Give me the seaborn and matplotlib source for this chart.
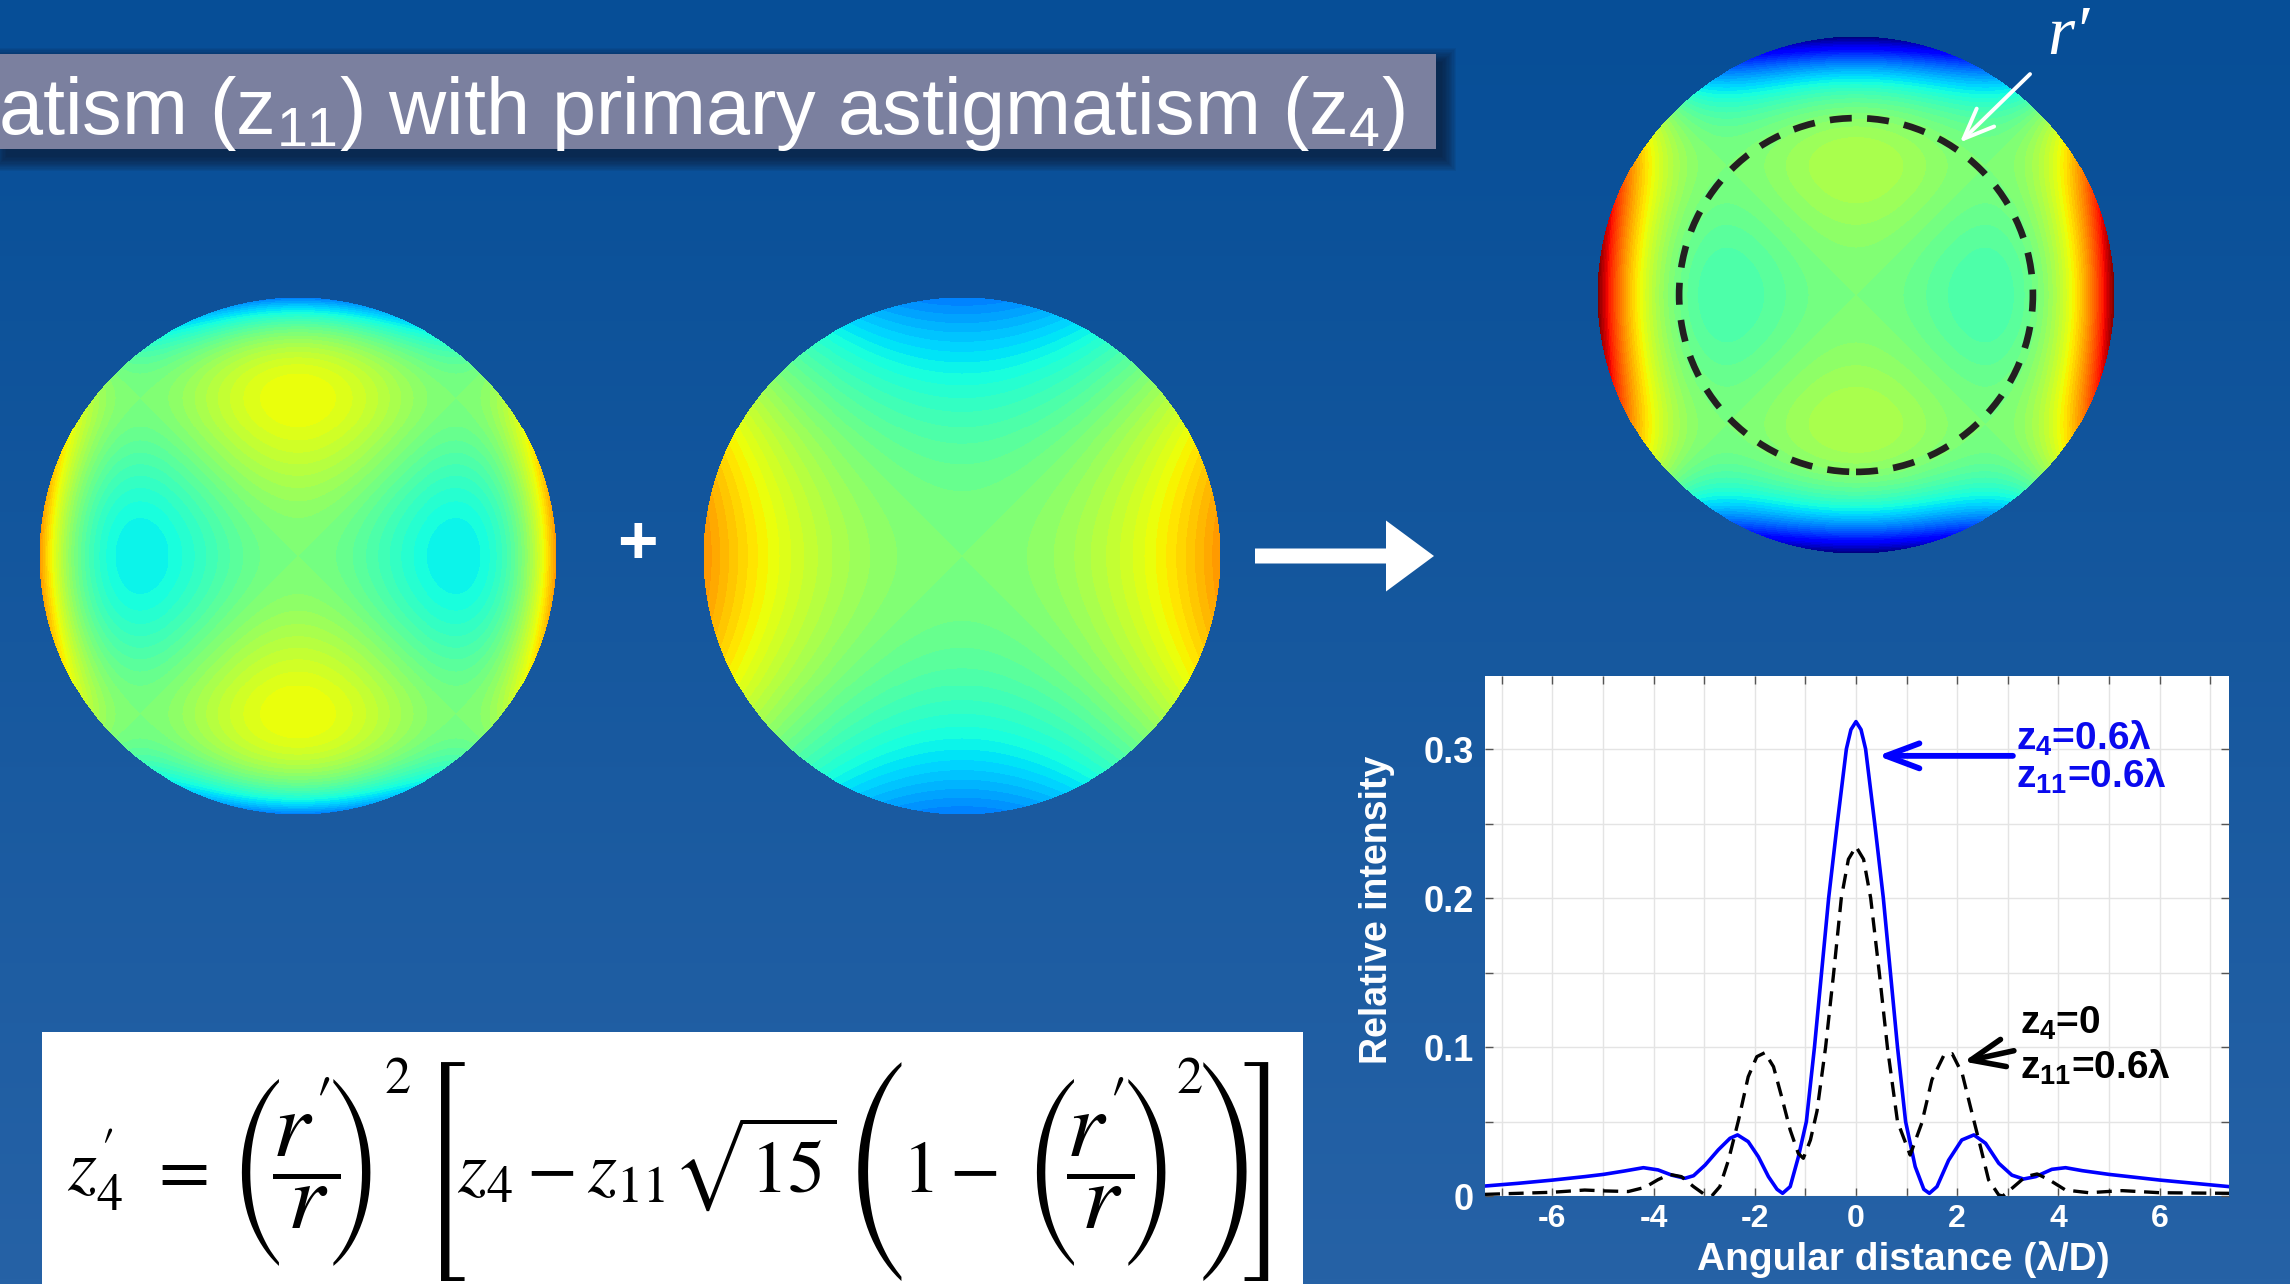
import numpy as np
import matplotlib
matplotlib.use("Agg")
import matplotlib.pyplot as plt
import seaborn as sns
from matplotlib.patches import Rectangle, Circle, FancyArrow
from matplotlib.ticker import FixedLocator, MultipleLocator
from matplotlib import font_manager as fm
from matplotlib.textpath import TextPath
from matplotlib.font_manager import FontProperties

# ---------------- data ----------------
x_blue = [-7.33, -6.68, -5.99, -5.36, -4.99, -4.57, -4.20, -3.91, -3.64, -3.38, -3.21, -2.98,
          -2.72, -2.49, -2.34, -2.13, -1.93, -1.73, -1.56, -1.45, -1.30, -1.14, -0.98, -0.82,
          -0.68, -0.54, -0.37, -0.19, -0.10, 0.00, 0.10, 0.19, 0.37, 0.54, 0.68, 0.82, 0.98,
          1.17, 1.34, 1.45, 1.60, 1.83, 2.09, 2.33, 2.56, 2.82, 3.08, 3.31, 3.55, 3.87, 4.14,
          4.47, 5.00, 6.00, 7.37]
y_blue = [0.0067, 0.0085, 0.0107, 0.0130, 0.0145, 0.0168, 0.0190, 0.0175, 0.0140, 0.0119, 0.0136,
          0.0208, 0.0310, 0.0387, 0.0410, 0.0365, 0.0264, 0.0130, 0.0045, 0.0018, 0.0063, 0.0260,
          0.0500, 0.1000, 0.1500, 0.2000, 0.2500, 0.3000, 0.3130, 0.3184, 0.3130, 0.3000, 0.2500,
          0.2000, 0.1500, 0.1000, 0.0500, 0.0197, 0.0045, 0.0018, 0.0063, 0.0240, 0.0376, 0.0410,
          0.0354, 0.0220, 0.0140, 0.0114, 0.0130, 0.0179, 0.0190, 0.0170, 0.0145, 0.0107, 0.0063]

x_black = [-7.33, -6.00, -5.36, -4.96, -4.50, -4.17, -3.91, -3.68, -3.45, -3.21, -2.98, -2.85,
           -2.69, -2.52, -2.32, -2.13, -1.96, -1.80, -1.63, -1.47, -1.30, -1.14, -1.04, -0.90,
           -0.77, -0.60, -0.44, -0.29, -0.15, 0.00, 0.15, 0.29, 0.46, 0.62, 0.82, 1.07, 1.30,
           1.50, 1.73, 1.90, 2.10, 2.26, 2.46, 2.62, 2.82, 2.90, 3.08, 3.35, 3.58, 3.81, 4.14,
           4.60, 5.26, 6.00, 7.37]
y_black = [0.0011, 0.0025, 0.0040, 0.0034, 0.0030, 0.0058, 0.0110, 0.0145, 0.0130, 0.0063, 0.0007,
           0.0000, 0.0063, 0.0240, 0.0510, 0.0800, 0.0935, 0.0962, 0.0868, 0.0667, 0.0443, 0.0286,
           0.0253, 0.0376, 0.0570, 0.1000, 0.1500, 0.2000, 0.2260, 0.2345, 0.2260, 0.2000, 0.1500,
           0.1000, 0.0500, 0.0275, 0.0490, 0.0780, 0.0940, 0.0955, 0.0820, 0.0600, 0.0330, 0.0108,
           0.0007, 0.0000, 0.0051, 0.0130, 0.0148, 0.0110, 0.0040, 0.0022, 0.0036, 0.0022, 0.0018]

xtick_values = [-6, -4, -2, 0, 2, 4, 6]
xtick_labels = ["-6", "-4", "-2", "0", "2", "4", "6"]
ytick_values = [0, 0.1, 0.2, 0.3]
ytick_labels = ["0", "0.1", "0.2", "0.3"]
x_label = "Angular distance (λ/D)"
y_label = "Relative intensity"
label_blue = ["z$_\\mathbf{4}$=0.6λ", "z$_\\mathbf{11}$=0.6λ"]
label_black = ["z$_\\mathbf{4}$=0", "z$_\\mathbf{11}$=0.6λ"]
title_text = "atism (z$_{11}$) with primary astigmatism (z$_{4}$)"
# formula z4' = (r'/r)^2 [ z4 - z11 sqrt(15) (1 - (r'/r)^2) ], written piece by piece
formula_body = [r"$z_4'$", r"$=$", r"$z_4 - z_{11}\sqrt{15}$", r"$1 -$"]
formula_frac = r"$\dfrac{r'}{r}$"
formula_power = "$2$"
formula_delims = ["(", ")", "[", "(", "(", ")", ")", "]"]
rprime_text = "r′"

# wavefront map coefficients (relative to a shared colour range of +-1)
coef_secondary = 0.50   # secondary astigmatism map (left)
coef_primary = 0.50     # primary astigmatism map (middle)
rprime_ratio = 0.683    # dashed circle r'/r

# ---------------- figure ----------------
names = {f.name for f in fm.fontManager.ttflist}
SANS = "Liberation Sans" if "Liberation Sans" in names else "DejaVu Sans"
SERIF = "Liberation Serif" if "Liberation Serif" in names else "DejaVu Serif"
DELIM = "STIXSizeThreeSym" if "STIXSizeThreeSym" in names else "STIXGeneral"
plt.rcParams["font.family"] = [SANS, "DejaVu Sans"]
plt.rcParams["mathtext.fontset"] = "custom"
plt.rcParams["mathtext.rm"] = SANS
plt.rcParams["mathtext.it"] = SANS + ":italic"
plt.rcParams["mathtext.bf"] = SANS + ":bold"

W, H = 2290, 1284
fig = plt.figure(figsize=(W / 100, H / 100), dpi=100)

# background axes in pixel coordinates
bg = fig.add_axes([0, 0, 1, 1])
top = np.array([6, 78, 151]) / 255.0
bot = np.array([38, 98, 166]) / 255.0
g = np.linspace(0, 1, 256)[:, None, None]
grad = top + (bot - top) * g
bg.imshow(np.repeat(grad, 2, axis=1), extent=[0, W, H, 0], aspect="auto", zorder=0)
bg.set_xlim(0, W)
bg.set_ylim(H, 0)
bg.axis("off")

# title shadow + box
for k in range(12):
    p = k * 1.3
    bg.add_patch(Rectangle((6 - p, 62 - p), 1436 + 2 * p, 95 + 2 * p, facecolor="#0b1426",
                           edgecolor="none", alpha=0.07, zorder=1))
bg.add_patch(Rectangle((-5, 54), 1441, 95, facecolor="#7b809f", edgecolor="none", zorder=2))
title = bg.text(-2, 134, title_text, fontsize=54, color="white", ha="left", va="baseline",
                zorder=3, math_fontfamily="custom")

# formula box and formula
bg.add_patch(Rectangle((42, 1032), 1261, 260, facecolor="white", edgecolor="none", zorder=2))
BASE = 1192
body_x = [67, 148, 457, 902]
body_texts = [bg.text(x, BASE, s, fontsize=50, color="black", ha="left", va="baseline",
                      math_fontfamily="stix", zorder=3) for x, s in zip(body_x, formula_body)]
frac_texts = [bg.text(x, BASE, formula_frac, fontsize=50, color="black", ha="center",
                      va="baseline", math_fontfamily="stix", zorder=3) for x in (306, 1100)]
pow_texts = [bg.text(x, 1093, formula_power, fontsize=35, color="black", ha="left",
                     va="baseline", math_fontfamily="stix", zorder=3) for x in (384, 1176)]
delim_pos = [(256, 1077, 1265), (355, 1077, 1265), (444, 1062, 1281), (875, 1062, 1281),
             (1051, 1077, 1265), (1150, 1077, 1265), (1229, 1062, 1281), (1265, 1062, 1281)]
fp_delim = FontProperties(family=DELIM)
for ch, (cx, ytop, ybot) in zip(formula_delims, delim_pos):
    ext = TextPath((0, 0), ch, size=100, prop=fp_delim).get_extents()
    fs = 100 * (ybot - ytop) * 0.72 / ext.height
    px_per_unit = fs / 100 * 100 / 72
    baseline = ybot + ext.y0 * px_per_unit
    bg.text(cx, baseline, ch, fontsize=fs, family=DELIM, color="black", ha="center",
            va="baseline", zorder=3)

# plus sign and big arrow
bg.text(637, 545, "+", fontsize=50, fontweight="bold", color="white", ha="center",
        va="center", zorder=3)
bg.add_patch(FancyArrow(1255, 556, 179, 0, width=15, head_width=71, head_length=48,
                        length_includes_head=True, facecolor="white", edgecolor="none", zorder=3))

# ---------------- wavefront maps ----------------
jet = matplotlib.colormaps["jet"].resampled(64).copy()
jet.set_bad(alpha=0)
n = 520
xs = np.linspace(-1, 1, n)
X, Y = np.meshgrid(xs, xs)
RHO = np.hypot(X, Y)
TH = np.arctan2(Y, X)
outside = RHO > 1
z_sec = (4 * RHO ** 4 - 3 * RHO ** 2) * np.cos(2 * TH)
z_pri = RHO ** 2 * np.cos(2 * TH)
maps = {
    "left": (298, 556, coef_secondary * z_sec),
    "mid": (962, 556, coef_primary * z_pri),
    "comb": (1856, 295, coef_secondary * z_sec + coef_primary * z_pri),
}
R = 259
map_axes = {}
for key, (cx, cy, val) in maps.items():
    a = fig.add_axes([(cx - R) / W, 1 - (cy + R) / H, 2 * R / W, 2 * R / H])
    a.imshow(np.where(outside, np.nan, val), extent=[-1, 1, -1, 1], origin="lower", cmap=jet,
             vmin=-1, vmax=1, interpolation="nearest")
    a.set_xlim(-1, 1)
    a.set_ylim(-1, 1)
    a.axis("off")
    map_axes[key] = a

ac = map_axes["comb"]
ac.add_patch(Circle((0, 0), rprime_ratio, fill=False, lw=4.8, ls=(0, (3.3, 2.3)),
                    edgecolor="#231f20"))
ac.text(0.74, 0.93, rprime_text, fontsize=50, color="white", ha="left", va="baseline",
        family=[SERIF, "DejaVu Serif"], style="italic", clip_on=False)
ac.annotate("", xy=(0.401, 0.589), xytext=(0.672, 0.853),
            arrowprops=dict(arrowstyle="->,head_length=1.1,head_width=0.45", color="white",
                            lw=2.8, mutation_scale=20, shrinkA=0, shrinkB=0))

# ---------------- intensity chart ----------------
ax = fig.add_axes([1485 / W, 1 - 1196 / H, 744 / W, 520 / H])
ax.set_facecolor("white")
sns.lineplot(x=x_blue, y=y_blue, ax=ax, color="#0000ff", lw=2.6, estimator=None, sort=False,
             zorder=3)
sns.lineplot(x=x_black, y=y_black, ax=ax, color="black", lw=2.4, estimator=None, sort=False,
             linestyle=(0, (4.5, 2.6)), zorder=4)
ax.set_xlim(-7.33, 7.37)
ax.set_ylim(0, 0.349)
ax.xaxis.set_major_locator(FixedLocator(xtick_values))
ax.xaxis.set_minor_locator(MultipleLocator(1))
ax.yaxis.set_major_locator(FixedLocator(ytick_values))
ax.yaxis.set_minor_locator(MultipleLocator(0.05))
ax.set_xticklabels(xtick_labels)
ax.set_yticklabels(ytick_labels)
ax.grid(True, which="both", color="#e4e4e4", lw=1)
ax.set_axisbelow(True)
for s in ax.spines.values():
    s.set_visible(False)
ax.tick_params(which="both", direction="in", top=True, right=True, color="#555555",
               length=6, width=1)
ax.tick_params(axis="y", which="major", labelsize=26, labelcolor="white", pad=8)
ax.tick_params(axis="x", which="major", labelsize=23, labelcolor="white", pad=6)
for lbl in ax.get_xticklabels() + ax.get_yticklabels():
    lbl.set_fontweight("bold")
ax.set_xlabel(x_label, fontsize=28, fontweight="bold", color="white")
ax.xaxis.label.set_va("baseline")
ax.xaxis.set_label_coords(0.5625, -0.1423)
ax.set_ylabel(y_label, fontsize=27, fontweight="bold", color="white")
ax.yaxis.label.set_va("center")
ax.yaxis.set_label_coords(-0.1456, 0.55)

blue_txt = "#0a0aee"
ax.text(3.17, 0.2996, label_blue[0], color=blue_txt, fontsize=28, fontweight="bold",
        va="baseline", ha="left", math_fontfamily="custom")
ax.text(3.17, 0.2740, label_blue[1], color=blue_txt, fontsize=28, fontweight="bold",
        va="baseline", ha="left", math_fontfamily="custom")
ax.text(3.24, 0.1090, label_black[0], color="black", fontsize=28, fontweight="bold",
        va="baseline", ha="left", math_fontfamily="custom")
ax.text(3.24, 0.0790, label_black[1], color="black", fontsize=28, fontweight="bold",
        va="baseline", ha="left", math_fontfamily="custom")
ax.annotate("", xy=(0.43, 0.2954), xytext=(3.10, 0.2954),
            arrowprops=dict(arrowstyle="->,head_length=1.2,head_width=0.45", color="#0000ff",
                            lw=4.2, mutation_scale=20, shrinkA=0, shrinkB=0))
ax.annotate("", xy=(2.13, 0.0902), xytext=(3.12, 0.0975),
            arrowprops=dict(arrowstyle="->,head_length=1.2,head_width=0.5", color="black",
                            lw=4.0, mutation_scale=20, shrinkA=0, shrinkB=0))

# ---------------- fit text sizes to the reference layout ----------------
fig.canvas.draw()
rend = fig.canvas.get_renderer()
w = title.get_window_extent(rend).width
title.set_fontsize(title.get_fontsize() * 1407.0 / w)
w = body_texts[2].get_window_extent(rend).width
F = 50 * 380.0 / w
for t in body_texts:
    t.set_fontsize(F)
for t in frac_texts:
    t.set_fontsize(1.28 * F)
for t in pow_texts:
    t.set_fontsize(0.7 * F)

fig.savefig("out.png", dpi=100)
